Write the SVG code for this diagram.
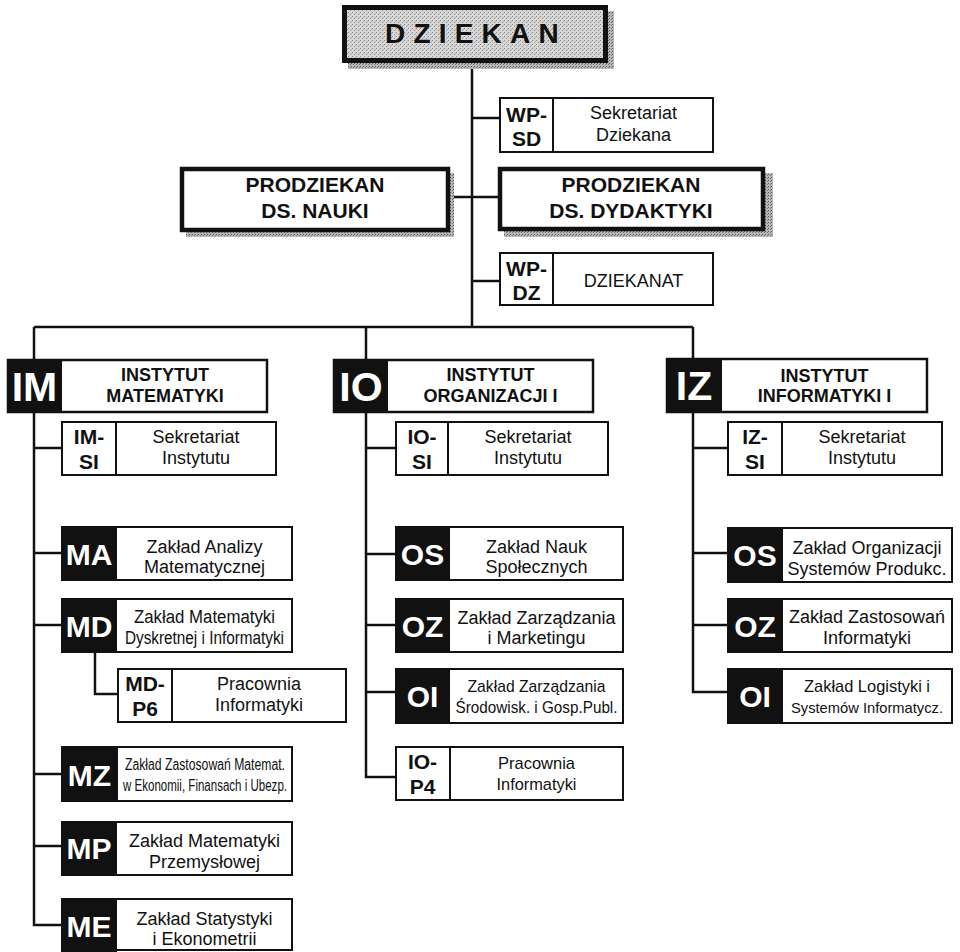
<svg xmlns="http://www.w3.org/2000/svg" width="960" height="952" viewBox="0 0 960 952">
<defs>
<pattern id="stip" width="4" height="4" patternUnits="userSpaceOnUse">
<rect width="4" height="4" fill="#d6d6d6"/>
<rect x="0" y="0" width="1" height="1" fill="#8c8c8c"/>
<rect x="2" y="2" width="1" height="1" fill="#9a9a9a"/>
<rect x="3" y="1" width="1" height="1" fill="#b0b0b0"/>
</pattern>
<pattern id="shad" width="3" height="3" patternUnits="userSpaceOnUse">
<rect width="3" height="3" fill="#b8b8b8"/>
<rect x="0" y="0" width="1" height="1" fill="#555"/>
<rect x="2" y="1" width="1" height="1" fill="#777"/>
</pattern>
</defs>
<style>
.bx{fill:#fff;stroke:#111;stroke-width:2}
.hd{fill:#fff;stroke:#111;stroke-width:2.5}
.pz{fill:#fff;stroke:#111;stroke-width:4.5}
.blk{fill:#111}
.sh{fill:url(#shad)}
.dv{stroke:#111;stroke-width:2}
.conn{stroke:#111;stroke-width:2.5;fill:none}
text{font-family:"Liberation Sans",Arial,Helvetica,sans-serif;fill:#111;text-anchor:middle}
.t{font-size:18px}
.s{font-size:17px}
.xs{font-size:16px}
.b{font-weight:bold}
.pre{font-size:21px;font-weight:bold}
.ph{font-size:21px;font-weight:bold}
.hdt{font-size:18px;font-weight:bold}
.big{font-size:30px;font-weight:bold;fill:#fff}
.ins{font-size:41px;font-weight:bold;fill:#fff}
</style>

<g id="connectors">
<path class="conn" d="M472 63 V327"/>
<path class="conn" d="M472 118 H500"/>
<path class="conn" d="M449 197 H498"/>
<path class="conn" d="M472 281 H500"/>
<path class="conn" d="M34 327 H693"/>
<path class="conn" d="M34 327 V925 H61"/>
<path class="conn" d="M34 448 H61"/>
<path class="conn" d="M34 553 H61"/>
<path class="conn" d="M34 625 H61"/>
<path class="conn" d="M34 774 H61"/>
<path class="conn" d="M34 846 H61"/>
<path class="conn" d="M95 652 V694 H117"/>
<path class="conn" d="M366 327 V777 H395"/>
<path class="conn" d="M366 448 H395"/>
<path class="conn" d="M366 554 H395"/>
<path class="conn" d="M366 625 H395"/>
<path class="conn" d="M366 692 H395"/>
<path class="conn" d="M693 327 V692 H727"/>
<path class="conn" d="M693 448 H727"/>
<path class="conn" d="M693 553 H727"/>
<path class="conn" d="M693 625 H727"/>
</g>

<g id="dziekan">
<rect x="348" y="11" width="266" height="58" class="sh"/>
<rect x="344.5" y="7.5" width="261" height="53" fill="url(#stip)" stroke="#111" stroke-width="5"/>
<text x="385" y="43" style="text-anchor:start;font-size:28px;font-weight:bold;letter-spacing:8.2px">DZIEKAN</text>
</g>

<g id="wp-sd">
<rect x="500" y="98" width="213" height="54" class="bx"/>
<line x1="553" y1="98" x2="553" y2="152" class="dv"/>
<text x="526.5" y="122" class="pre">WP-</text>
<text x="526.5" y="146" class="pre">SD</text>
<text x="633.5" y="119" class="t">Sekretariat</text>
<text x="633.5" y="141" class="t">Dziekana</text>
</g>

<g id="prodziekan-nauki">
<rect x="186" y="173" width="268" height="64" class="sh"/>
<rect x="182" y="169" width="266" height="61" class="pz"/>
<text x="315" y="192" class="ph">PRODZIEKAN</text>
<text x="315" y="218" class="ph">DS. NAUKI</text>
</g>

<g id="prodziekan-dydaktyki">
<rect x="504" y="173" width="269" height="64" class="sh"/>
<rect x="500" y="169" width="263" height="60" class="pz"/>
<text x="631" y="192" class="ph">PRODZIEKAN</text>
<text x="631" y="218" class="ph">DS. DYDAKTYKI</text>
</g>

<g id="wp-dz">
<rect x="500" y="253" width="213" height="52" class="bx"/>
<line x1="553" y1="253" x2="553" y2="305" class="dv"/>
<text x="526.5" y="276" class="pre">WP-</text>
<text x="526.5" y="300" class="pre">DZ</text>
<text x="633.5" y="287" class="t">DZIEKANAT</text>
</g>

<g id="im">
<rect x="8" y="360" width="259" height="52" class="hd"/>
<rect x="7" y="359" width="55" height="54" class="blk"/>
<text x="34.5" y="401" class="ins">IM</text>
<text x="165" y="381" class="hdt">INSTYTUT</text>
<text x="165" y="402" class="hdt">MATEMATYKI</text>
</g>

<g id="im-si">
<rect x="62" y="422" width="214" height="53" class="bx"/>
<line x1="116" y1="422" x2="116" y2="475" class="dv"/>
<text x="89" y="444" class="pre">IM-</text>
<text x="89" y="469" class="pre">SI</text>
<text x="196" y="443" class="t">Sekretariat</text>
<text x="196" y="464" class="t">Instytutu</text>
</g>

<g id="ma">
<rect x="62" y="527" width="230" height="53" class="bx"/>
<rect x="61" y="526" width="56" height="55" class="blk"/>
<text x="89" y="565" class="big">MA</text>
<text x="204.5" y="553" class="t">Zakład Analizy</text>
<text x="204.5" y="573" class="t">Matematycznej</text>
</g>

<g id="md">
<rect x="62" y="599" width="230" height="53" class="bx"/>
<rect x="61" y="598" width="56" height="55" class="blk"/>
<text x="89" y="637" class="big">MD</text>
<text x="204.5" y="623" class="t" textLength="141" lengthAdjust="spacingAndGlyphs">Zakład Matematyki</text>
<text x="204.5" y="644" class="t" textLength="159" lengthAdjust="spacingAndGlyphs">Dyskretnej i Informatyki</text>
</g>

<g id="md-p6">
<rect x="118" y="669" width="228" height="53" class="bx"/>
<line x1="172" y1="669" x2="172" y2="722" class="dv"/>
<text x="145" y="691" class="pre">MD-</text>
<text x="145" y="716" class="pre">P6</text>
<text x="259" y="690" class="t">Pracownia</text>
<text x="259" y="711" class="t">Informatyki</text>
</g>

<g id="mz">
<rect x="62" y="747" width="230" height="54" class="bx"/>
<rect x="61" y="746" width="57" height="56" class="blk"/>
<text x="89.5" y="786" class="big">MZ</text>
<text x="205" y="770" class="xs" textLength="160" lengthAdjust="spacingAndGlyphs">Zakład Zastosowań Matemat.</text>
<text x="205" y="791" class="xs" textLength="164" lengthAdjust="spacingAndGlyphs">w Ekonomii, Finansach i Ubezp.</text>
</g>

<g id="mp">
<rect x="62" y="822" width="230" height="53" class="bx"/>
<rect x="61" y="821" width="56" height="55" class="blk"/>
<text x="89" y="859" class="big">MP</text>
<text x="204.5" y="847" class="t">Zakład Matematyki</text>
<text x="204.5" y="868" class="t">Przemysłowej</text>
</g>

<g id="me">
<rect x="62" y="899" width="230" height="51" class="bx"/>
<rect x="61" y="898" width="56" height="54" class="blk"/>
<text x="89" y="937" class="big">ME</text>
<text x="204.5" y="925" class="t">Zakład Statystyki</text>
<text x="204.5" y="945" class="t">i Ekonometrii</text>
</g>

<g id="io">
<rect x="334" y="360" width="259" height="52" class="hd"/>
<rect x="333" y="359" width="55" height="54" class="blk"/>
<text x="361" y="401" class="ins">IO</text>
<text x="490.5" y="381" class="hdt">INSTYTUT</text>
<text x="490.5" y="402" class="hdt">ORGANIZACJI I</text>
</g>

<g id="io-si">
<rect x="396" y="422" width="212" height="53" class="bx"/>
<line x1="448" y1="422" x2="448" y2="475" class="dv"/>
<text x="422" y="444" class="pre">IO-</text>
<text x="422" y="469" class="pre">SI</text>
<text x="528" y="443" class="t">Sekretariat</text>
<text x="528" y="464" class="t">Instytutu</text>
</g>

<g id="io-os">
<rect x="396" y="527" width="227" height="53" class="bx"/>
<rect x="395" y="526" width="55" height="55" class="blk"/>
<text x="422.5" y="565" class="big">OS</text>
<text x="536.5" y="553" class="t">Zakład Nauk</text>
<text x="536.5" y="573" class="t">Społecznych</text>
</g>

<g id="io-oz">
<rect x="396" y="599" width="227" height="53" class="bx"/>
<rect x="395" y="598" width="55" height="55" class="blk"/>
<text x="422.5" y="637" class="big">OZ</text>
<text x="536.5" y="624" class="t">Zakład Zarządzania</text>
<text x="536.5" y="644" class="t">i Marketingu</text>
</g>

<g id="io-oi">
<rect x="396" y="669" width="227" height="54" class="bx"/>
<rect x="395" y="668" width="55" height="56" class="blk"/>
<text x="422.5" y="707" class="big">OI</text>
<text x="536.5" y="692" class="s" textLength="138" lengthAdjust="spacingAndGlyphs">Zakład Zarządzania</text>
<text x="536.5" y="713" class="s" textLength="162" lengthAdjust="spacingAndGlyphs">Środowisk. i Gosp.Publ.</text>
</g>

<g id="io-p4">
<rect x="396" y="747" width="227" height="53" class="bx"/>
<line x1="450" y1="747" x2="450" y2="800" class="dv"/>
<text x="422.5" y="769" class="pre">IO-</text>
<text x="422.5" y="794" class="pre">P4</text>
<text x="536.5" y="769" class="s" textLength="77" lengthAdjust="spacingAndGlyphs">Pracownia</text>
<text x="536.5" y="790" class="s" textLength="80" lengthAdjust="spacingAndGlyphs">Informatyki</text>
</g>

<g id="iz">
<rect x="667" y="359" width="260" height="53" class="hd"/>
<rect x="666" y="358" width="56" height="55" class="blk"/>
<text x="694" y="400" class="ins">IZ</text>
<text x="824.5" y="382" class="hdt">INSTYTUT</text>
<text x="824.5" y="402" class="hdt">INFORMATYKI I</text>
</g>

<g id="iz-si">
<rect x="728" y="422" width="214" height="53" class="bx"/>
<line x1="782" y1="422" x2="782" y2="475" class="dv"/>
<text x="755" y="444" class="pre">IZ-</text>
<text x="755" y="469" class="pre">SI</text>
<text x="862" y="443" class="t">Sekretariat</text>
<text x="862" y="464" class="t">Instytutu</text>
</g>

<g id="iz-os">
<rect x="728" y="528" width="224" height="54" class="bx"/>
<rect x="727" y="527" width="56" height="56" class="blk"/>
<text x="755" y="566" class="big">OS</text>
<text x="867" y="554" class="t">Zakład Organizacji</text>
<text x="867" y="575" class="t">Systemów Produkc.</text>
</g>

<g id="iz-oz">
<rect x="728" y="599" width="224" height="53" class="bx"/>
<rect x="727" y="598" width="56" height="55" class="blk"/>
<text x="755" y="637" class="big">OZ</text>
<text x="867" y="623" class="t">Zakład Zastosowań</text>
<text x="867" y="644" class="t">Informatyki</text>
</g>

<g id="iz-oi">
<rect x="728" y="669" width="224" height="54" class="bx"/>
<rect x="727" y="668" width="56" height="56" class="blk"/>
<text x="755" y="707" class="big">OI</text>
<text x="867" y="692" class="s" textLength="126" lengthAdjust="spacingAndGlyphs">Zakład Logistyki i</text>
<text x="867" y="713" style="font-size:15px" textLength="152" lengthAdjust="spacingAndGlyphs">Systemów Informatycz.</text>
</g>
</svg>
